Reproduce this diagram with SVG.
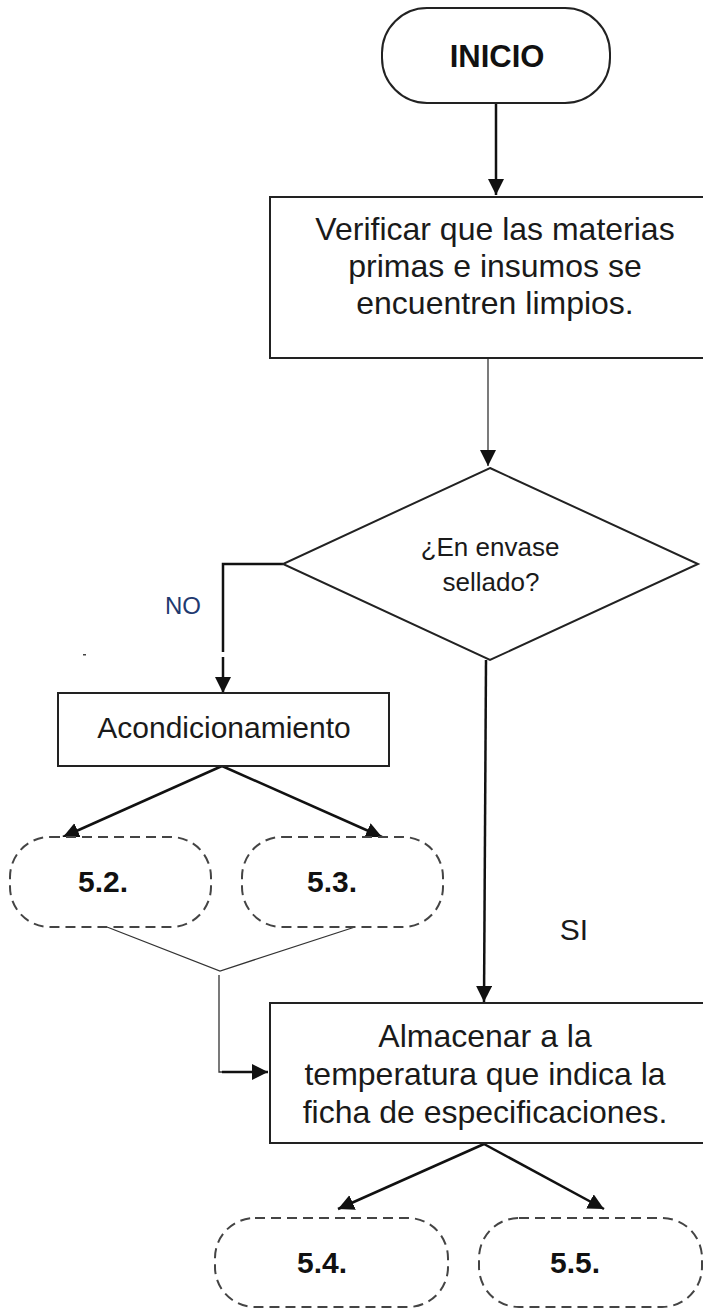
<svg xmlns="http://www.w3.org/2000/svg" width="703" height="1310" viewBox="0 0 703 1310">
  <defs>
    <marker id="arr" markerUnits="userSpaceOnUse" markerWidth="18" markerHeight="18" refX="16" refY="8" orient="auto">
      <path d="M0,0 L16,8 L0,16 Z" fill="#111"/>
    </marker>
    <style>
      .box { fill: #fff; stroke: #222; stroke-width: 2; }
      .dash { fill: #fff; stroke: #444; stroke-width: 2; stroke-dasharray: 10 6; }
      .ln { fill: none; stroke: #111; stroke-width: 2.5; }
      .thin { fill: none; stroke: #333; stroke-width: 1.3; }
      .t { font-family: "Liberation Sans", Arial, sans-serif; fill: #1a1a1a; text-anchor: middle; }
      .b { font-family: "Liberation Sans", Arial, sans-serif; font-weight: bold; fill: #111; text-anchor: middle; }
    </style>
  </defs>
  <rect width="703" height="1310" fill="#fff"/>

  <g id="connectors">
    <line class="ln" x1="496" y1="103" x2="496" y2="195" marker-end="url(#arr)"/>
    <line class="thin" x1="488" y1="358" x2="488" y2="466" stroke-width="1.6" marker-end="url(#arr)"/>
    <polyline class="ln" points="283,564 223,564 223,652"/>
    <line class="ln" x1="223" y1="657" x2="223" y2="693" marker-end="url(#arr)"/>
    <line class="ln" x1="222" y1="766" x2="63" y2="837" marker-end="url(#arr)"/>
    <line class="ln" x1="222" y1="766" x2="382" y2="837" marker-end="url(#arr)"/>
    <polyline class="thin" points="107,927 220,971 355,927"/>
    <polyline class="thin" points="219,975 219,1072 222,1072"/>
    <line class="ln" x1="222" y1="1072" x2="268" y2="1072" marker-end="url(#arr)"/>
    <line class="ln" x1="486" y1="660" x2="484" y2="1002" marker-end="url(#arr)"/>
    <line class="ln" x1="484" y1="1144" x2="338" y2="1209" marker-end="url(#arr)"/>
    <line class="ln" x1="484" y1="1144" x2="604" y2="1209" marker-end="url(#arr)"/>
    <text class="t" x="183" y="614" font-size="24" style="fill:#1f3a70">NO</text>
    <text class="t" x="574" y="940" font-size="30">SI</text>
    <rect x="83" y="654" width="3" height="1.5" fill="#444"/>
  </g>

  <g id="inicio">
    <rect class="box" x="382" y="8" width="228" height="95" rx="45" ry="45" stroke="#444"/>
    <text class="b" x="497" y="67" font-size="31">INICIO</text>
  </g>

  <g id="verificar">
    <rect class="box" x="270" y="197" width="440" height="161"/>
    <text class="t" x="495" y="240" font-size="32">Verificar que las materias</text>
    <text class="t" x="495" y="277" font-size="32">primas e insumos se</text>
    <text class="t" x="495" y="314" font-size="32">encuentren limpios.</text>
  </g>

  <g id="decision">
    <polygon class="box" points="490,468 698,564 490,660 283,564" stroke-width="1.6"/>
    <text class="t" x="490" y="556" font-size="26">¿En envase</text>
    <text class="t" x="491" y="591" font-size="26">sellado?</text>
  </g>

  <g id="acondicionamiento">
    <rect class="box" x="58" y="693" width="331" height="73"/>
    <text class="t" x="224" y="738" font-size="30">Acondicionamiento</text>
  </g>

  <g id="n52">
    <rect class="dash" x="10" y="837" width="201" height="90" rx="40" ry="40"/>
    <text class="b" x="103" y="892" font-size="30">5.2.</text>
  </g>

  <g id="n53">
    <rect class="dash" x="242" y="837" width="201" height="90" rx="40" ry="40"/>
    <text class="b" x="332" y="892" font-size="30">5.3.</text>
  </g>

  <g id="almacenar">
    <rect class="box" x="270" y="1003" width="440" height="140"/>
    <text class="t" x="485" y="1047" font-size="32">Almacenar a la</text>
    <text class="t" x="485" y="1085" font-size="32">temperatura que indica la</text>
    <text class="t" x="485" y="1123" font-size="32">ficha de especificaciones.</text>
  </g>

  <g id="n54">
    <rect class="dash" x="215" y="1218" width="233" height="89" rx="40" ry="40"/>
    <text class="b" x="322" y="1273" font-size="30">5.4.</text>
  </g>

  <g id="n55">
    <rect class="dash" x="479" y="1218" width="223" height="89" rx="40" ry="40"/>
    <text class="b" x="575" y="1273" font-size="30">5.5.</text>
  </g>
</svg>
